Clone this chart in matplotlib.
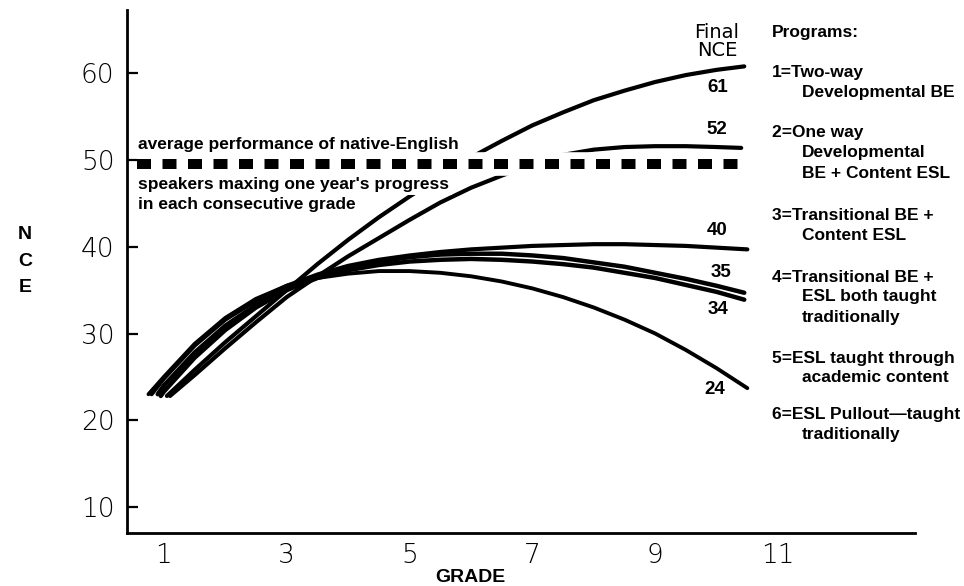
import matplotlib
matplotlib.use("Agg")
import matplotlib.pyplot as plt

# ---------------- data ----------------
grades_p1 = [1.05, 1.5, 2.0, 2.5, 3.0, 3.5, 4.0, 4.5, 5.0, 5.5, 6.0, 6.5, 7.0, 7.5, 8.0, 8.5, 9.0, 9.5, 10.0, 10.45]
nce_p1 = [22.8, 25.8, 29.0, 32.0, 35.0, 38.0, 40.8, 43.4, 45.8, 48.1, 50.3, 52.2, 54.0, 55.5, 56.9, 58.0, 59.0, 59.8, 60.4, 60.8]

grades_p2 = [1.1, 1.5, 2.0, 2.5, 3.0, 3.5, 4.0, 4.5, 5.0, 5.5, 6.0, 6.5, 7.0, 7.5, 8.0, 8.5, 9.0, 9.5, 10.0, 10.4]
nce_p2 = [22.8, 25.2, 28.3, 31.3, 34.2, 36.6, 38.9, 41.0, 43.1, 45.1, 46.8, 48.2, 49.5, 50.6, 51.2, 51.5, 51.6, 51.6, 51.5, 51.4]

grades_p3 = [0.8, 1.0, 1.5, 2.0, 2.5, 3.0, 3.5, 4.0, 4.5, 5.0, 5.5, 6.0, 6.5, 7.0, 7.5, 8.0, 8.5, 9.0, 9.5, 10.0, 10.5]
nce_p3 = [23.0, 24.8, 28.6, 31.6, 33.8, 35.5, 36.8, 37.8, 38.5, 39.0, 39.4, 39.7, 39.9, 40.1, 40.2, 40.3, 40.3, 40.2, 40.1, 39.9, 39.7]

grades_p4 = [0.9, 1.0, 1.5, 2.0, 2.5, 3.0, 3.5, 4.0, 4.5, 5.0, 5.5, 6.0, 6.5, 7.0, 7.5, 8.0, 8.5, 9.0, 9.5, 10.0, 10.45]
nce_p4 = [23.0, 24.0, 27.8, 30.9, 33.3, 35.2, 36.6, 37.6, 38.3, 38.8, 39.1, 39.2, 39.2, 39.0, 38.7, 38.2, 37.7, 37.0, 36.3, 35.5, 34.7]

grades_p5 = [0.95, 1.0, 1.5, 2.0, 2.5, 3.0, 3.5, 4.0, 4.5, 5.0, 5.5, 6.0, 6.5, 7.0, 7.5, 8.0, 8.5, 9.0, 9.5, 10.0, 10.45]
nce_p5 = [22.8, 23.3, 27.2, 30.4, 33.0, 35.0, 36.4, 37.3, 37.9, 38.3, 38.5, 38.6, 38.5, 38.3, 38.0, 37.6, 37.0, 36.4, 35.6, 34.8, 33.9]

grades_p6 = [0.75, 1.0, 1.5, 2.0, 2.5, 3.0, 3.5, 4.0, 4.5, 5.0, 5.5, 6.0, 6.5, 7.0, 7.5, 8.0, 8.5, 9.0, 9.5, 10.0, 10.5]
nce_p6 = [23.0, 25.0, 28.8, 31.8, 34.0, 35.5, 36.4, 36.9, 37.2, 37.2, 37.0, 36.6, 36.0, 35.2, 34.2, 33.0, 31.6, 30.0, 28.1, 26.0, 23.7]

native_english_nce = 49.5
native_grades = [0.56, 10.35]

final_nce = [61, 52, 40, 35, 34, 24]

program_lines = [
    ["1=Two-way", "Developmental BE"],
    ["2=One way", "Developmental", "BE + Content ESL"],
    ["3=Transitional BE +", "Content ESL"],
    ["4=Transitional BE +", "ESL both taught", "traditionally"],
    ["5=ESL taught through", "academic content"],
    ["6=ESL Pullout\u2014taught", "traditionally"],
]

x_ticks = [1, 3, 5, 7, 9, 11]
y_ticks = [10, 20, 30, 40, 50, 60]

# ---------------- figure ----------------
W, H = 964, 586
fig = plt.figure(figsize=(W / 100, H / 100), dpi=100)
ax = fig.add_axes([127 / W, 1 - 533 / H, (915 - 127) / W, (533 - 10) / H])
ax.set_xlim(0.40, 13.23)
ax.set_ylim(7.0, 67.3)

for s in ["top", "right"]:
    ax.spines[s].set_visible(False)
for s in ["left", "bottom"]:
    ax.spines[s].set_linewidth(2.0)
    ax.spines[s].set_color("black")

ax.set_xticks(x_ticks)
ax.set_yticks(y_ticks)
ax.tick_params(axis="x", length=0, pad=7, labelsize=19)
ax.tick_params(axis="y", direction="in", length=8, width=1.6, pad=9, labelsize=19)
for lab in ax.get_xticklabels() + ax.get_yticklabels():
    lab.set_fontfamily("DejaVu Sans")
    lab.set_fontweight("light")

series = [
    (grades_p1, nce_p1, 3.0),
    (grades_p2, nce_p2, 3.0),
    (grades_p3, nce_p3, 3.0),
    (grades_p4, nce_p4, 3.2),
    (grades_p5, nce_p5, 3.2),
    (grades_p6, nce_p6, 2.8),
]
for gx, gy, lw in series:
    ax.plot(gx, gy, color="black", lw=lw, solid_capstyle="round",
            solid_joinstyle="round", zorder=4)

# native-English reference line (white band masks the curves behind it)
ax.plot(native_grades, [native_english_nce, native_english_nce], color="white",
        lw=17, solid_capstyle="butt", zorder=5)
ax.plot(native_grades, [native_english_nce, native_english_nce], color="black",
        lw=7.2, linestyle=(0, (1.4, 1.15)), dash_capstyle="butt", zorder=6)

BOLD = dict(family="Liberation Sans", weight="bold", color="black")

def ftext(px, py, s, **kw):
    return fig.text(px / W, 1 - py / H, s, **kw)

WHITE_BOX = dict(facecolor="white", edgecolor="none", pad=2.5)

# annotation of the dashed line
ftext(138, 144, "average performance of native-English", fontsize=12.5, ha="left", va="center", **BOLD)
ftext(138, 184, "speakers maxing one year's progress", fontsize=12.5, ha="left", va="center",
      bbox=WHITE_BOX, **BOLD)
ftext(138, 204, "in each consecutive grade", fontsize=12.5, ha="left", va="center",
      bbox=WHITE_BOX, **BOLD)

# Final NCE header and numbers
ftext(717, 32, "Final", fontsize=14, ha="center", va="center", family="DejaVu Sans", color="black")
ftext(717, 51, "NCE", fontsize=14, ha="center", va="center", family="DejaVu Sans", color="black")
label_pos = [(718, 88), (717, 130), (717, 230), (721, 273), (718, 310), (715, 390)]
for val, (px, py) in zip(final_nce, label_pos):
    ftext(px, py, str(val), fontsize=13.5, ha="center", va="center", **BOLD)

# Programs legend
ftext(772, 32, "Programs:", fontsize=12.5, ha="left", va="center", **BOLD)
prog_y = [72, 133, 215, 277, 358, 415]
for lines, y0 in zip(program_lines, prog_y):
    for i, line in enumerate(lines):
        px = 772 if i == 0 else 802
        ftext(px, y0 + 20 * i, line, fontsize=12.5, ha="left", va="center", **BOLD)

# axis labels
ftext(470, 577, "GRADE", fontsize=14, ha="center", va="center", **BOLD)
ftext(25, 261, "N\nC\nE", fontsize=14, ha="center", va="center", linespacing=1.75, **BOLD)

fig.savefig("out.png", dpi=100)
